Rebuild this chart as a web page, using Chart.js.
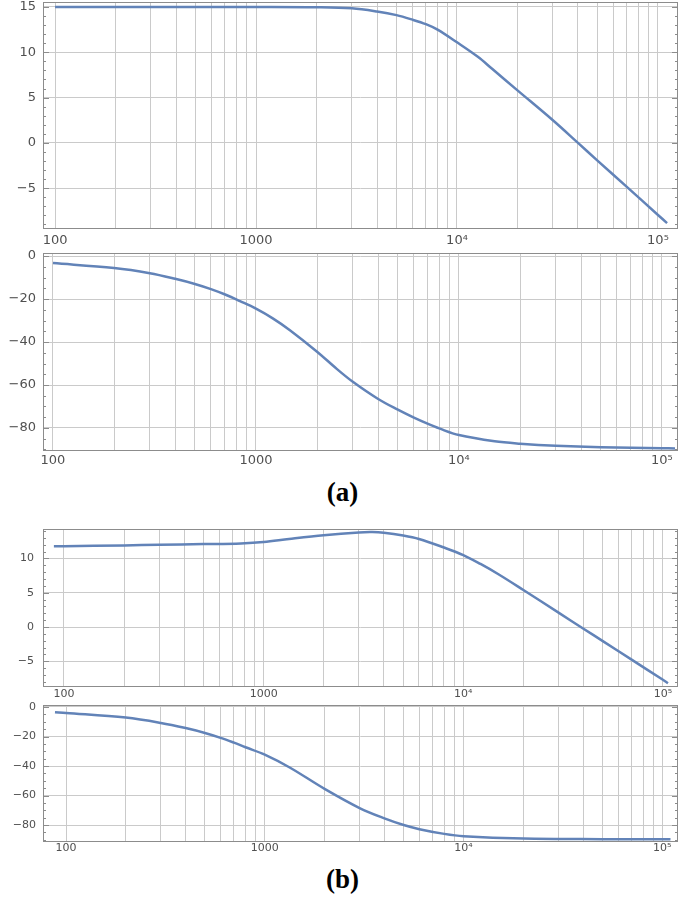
<!DOCTYPE html>
<html>
<head>
<meta charset="utf-8">
<title>Bode plots (a) and (b)</title>
<script src="https://cdn.jsdelivr.net/npm/chart.js"></script>
<style>
  body { margin: 0; background: #fff; }
  #wrap { position: relative; width: 685px; height: 899px; }
  canvas { position: absolute; left: 0; }
  .cap {
    position: absolute; left: 0; width: 685px; height: 32px; line-height: 32px;
    text-align: center; font: bold 27px "Liberation Serif", "Times New Roman", serif; color: #000;
  }
</style>
</head>
<body>
<div id="wrap">
  <canvas id="magA" width="685" height="250" style="top:0px"></canvas>
  <canvas id="phaseA" width="685" height="220" style="top:250px"></canvas>
  <div class="cap" style="top:477px">(a)</div>
  <canvas id="magB" width="685" height="182" style="top:520px"></canvas>
  <canvas id="phaseB" width="685" height="158" style="top:702px"></canvas>
  <div class="cap" style="top:864px">(b)</div>
</div>
<script>
// frequency grid lines and their labels
const gridFreqs = [100, 200, 300, 400, 500, 600, 700, 800, 900,
                   1000, 2000, 3000, 4000, 5000, 6000, 7000, 8000, 9000,
                   10000, 20000, 30000, 40000, 50000, 60000, 70000, 80000, 90000, 100000];
const freqLabels = { 100: '100', 1000: '1000', 10000: '10⁴', 100000: '10⁵' };
const magTicks = [-5, 0, 5, 10, 15];
const magTicksB = [-5, 0, 5, 10];
const phaseTicks = [-80, -60, -40, -20, 0];

// (a) magnitude
const magA_f  = [100, 200, 500, 1000, 2000, 3000, 4000, 5000, 6000, 7000, 8000, 10000, 12700, 15000, 20000, 30000, 40000, 50000, 70000, 100000, 111000];
const magA_db = [15.0, 15.0, 15.0, 15.0, 14.97, 14.85, 14.5, 14.1, 13.6, 13.1, 12.5, 11.1, 9.5, 8.15, 5.8, 2.5, 0.0, -1.95, -4.85, -7.95, -8.85];

// (a) phase
const phaseA_f   = [100, 200, 300, 400, 500, 600, 700, 835, 1000, 1210, 1470, 2000, 2500, 3000, 4000, 5000, 6000, 7000, 8000, 10000, 15000, 20000, 30000, 50000, 100000, 116000];
const phaseA_deg = [-3.3, -5.6, -8.0, -10.6, -13.0, -15.4, -17.8, -21.0, -24.5, -29.0, -34.5, -44.5, -52.5, -58.5, -66.5, -71.5, -75.2, -78.0, -80.2, -83.3, -86.2, -87.3, -88.3, -89.0, -89.4, -89.5];

// (b) magnitude
const magB_f  = [89, 100, 200, 300, 500, 770, 1000, 1340, 2000, 3000, 3500, 4000, 5000, 6000, 8000, 10000, 12200, 15000, 20000, 30000, 40000, 50000, 70000, 100000, 106000];
const magB_db = [11.8, 11.8, 11.9, 12.0, 12.1, 12.2, 12.4, 12.85, 13.4, 13.8, 13.85, 13.75, 13.35, 12.85, 11.6, 10.5, 9.2, 7.7, 5.4, 2.1, -0.25, -2.05, -4.8, -7.7, -8.2];

// (b) phase
const phaseB_f   = [88, 100, 200, 300, 400, 500, 600, 700, 800, 1000, 1335, 2000, 3000, 4000, 5000, 6000, 8000, 10000, 20000, 50000, 110000];
const phaseB_deg = [-3.5, -4.0, -7.2, -10.8, -14.3, -17.6, -20.9, -24.2, -27.3, -32.3, -41.0, -55.5, -68.5, -75.5, -80.0, -82.8, -86.0, -87.6, -89.2, -89.6, -89.7];

const LINE = '#6283b8';
const GRID = '#cacaca';
const FRAME = '#8c8c8c';
const TXT = '#505050';

// frame box + small ticks on left/right edges
const framePlugin = {
  id: 'frame',
  afterDraw(chart, args, opts) {
    const { ctx, chartArea: a } = chart;
    const y = chart.scales.y;
    ctx.save();
    ctx.strokeStyle = FRAME;
    ctx.lineWidth = 1;
    ctx.strokeRect(a.left + 0.5, a.top + 0.5, a.right - a.left - 1, a.bottom - a.top - 1);
    ctx.beginPath();
    const start = Math.ceil(y.min / opts.minor) * opts.minor;
    for (let v = start; v <= y.max; v += opts.minor) {
      const py = Math.round(y.getPixelForValue(v)) + 0.5;
      const len = (Math.abs(v % opts.major) < 1e-6) ? 6 : 3;
      ctx.moveTo(a.left, py); ctx.lineTo(a.left + len, py);
      ctx.moveTo(a.right, py); ctx.lineTo(a.right - len, py);
    }
    ctx.stroke();
    ctx.restore();
  }
};

function minusFmt(v) {
  return v < 0 ? '−' + Math.abs(v) : String(v);
}

function bode(id, freqs, vals, p) {
  return new Chart(document.getElementById(id), {
    type: 'line',
    data: {
      datasets: [{
        data: freqs.map((f, i) => ({ x: f, y: vals[i] })),
        borderColor: LINE,
        borderWidth: 2.5,
        pointRadius: 0,
        tension: 0.35
      }]
    },
    options: {
      responsive: false,
      animation: false,
      events: [],
      layout: { padding: { top: p.padTop, right: 7, left: 0, bottom: 0 } },
      plugins: {
        legend: { display: false },
        tooltip: { enabled: false },
        frame: { minor: p.minor, major: p.major }
      },
      scales: {
        x: {
          type: 'logarithmic',
          min: p.xMin,
          max: p.xMax,
          border: { display: false },
          grid: { color: GRID, drawTicks: false },
          afterBuildTicks: s => { s.ticks = gridFreqs.map(v => ({ value: v })); },
          afterFit: s => { s.height = p.xAxisH; s.paddingLeft = 0; s.paddingRight = 0; },
          ticks: {
            autoSkip: false, maxRotation: 0, padding: p.xPad, color: TXT,
            font: { family: 'DejaVu Sans', size: p.fontSize },
            callback: v => freqLabels[v] || ''
          }
        },
        y: {
          min: p.yMin,
          max: p.yMax,
          border: { display: false },
          grid: { color: GRID, drawTicks: false },
          afterBuildTicks: s => { s.ticks = p.yTicks.map(v => ({ value: v })); },
          afterFit: s => { s.width = 43; s.paddingTop = 0; s.paddingBottom = 0; },
          ticks: {
            padding: p.yPad, color: TXT,
            font: { family: 'DejaVu Sans', size: p.fontSize },
            callback: minusFmt
          }
        }
      }
    },
    plugins: [framePlugin]
  });
}

bode('magA', magA_f, magA_db, {
  padTop: 2, xAxisH: 21, xMin: 87.1, xMax: 125800, yMin: -9.5, yMax: 15.55,
  yTicks: magTicks, minor: 1, major: 5, fontSize: 13, xPad: 4, yPad: 7
});
bode('phaseA', phaseA_f, phaseA_deg, {
  padTop: 3, xAxisH: 19, xMin: 89.3, xMax: 120000, yMin: -90.7, yMax: 1.4,
  yTicks: phaseTicks, minor: 5, major: 20, fontSize: 13, xPad: 2, yPad: 7
});
bode('magB', magB_f, magB_db, {
  padTop: 9, xAxisH: 15, xMin: 78.5, xMax: 119000, yMin: -8.75, yMax: 14.3,
  yTicks: magTicksB, minor: 1, major: 5, fontSize: 11, xPad: 1, yPad: 9
});
bode('phaseB', phaseB_f, phaseB_deg, {
  padTop: 3, xAxisH: 18, xMin: 76.6, xMax: 120000, yMin: -91.5, yMax: 1.35,
  yTicks: phaseTicks, minor: 5, major: 20, fontSize: 11, xPad: 0, yPad: 7
});
</script>
</body>
</html>
